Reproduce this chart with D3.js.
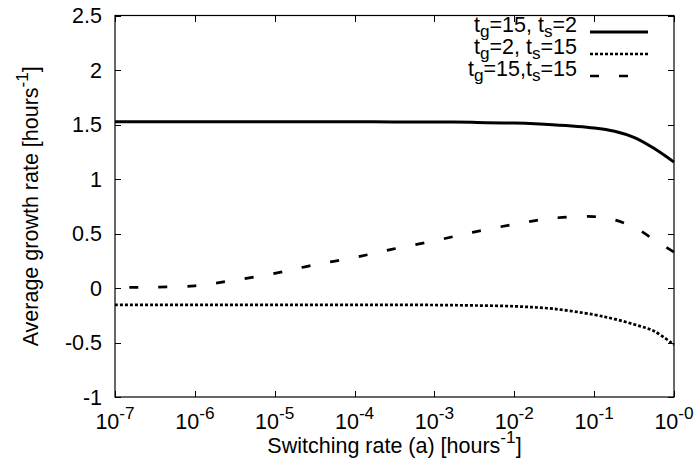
<!DOCTYPE html>
<html>
<head>
<meta charset="utf-8">
<script src="https://cdn.jsdelivr.net/npm/d3@7"></script>
<style>
  body { margin: 0; background: #fff; }
  svg { display: block; }
  text { font-family: "Liberation Sans", Arial, Helvetica, sans-serif; fill: #000; }
</style>
</head>
<body>
<div id="chart"></div>
<script>
// switching rate a [hours^-1]
var rates = [1e-7, 3e-7, 1e-6, 3e-6, 1e-5, 3e-5, 1e-4, 3e-4, 1e-3, 3e-3, 1e-2, 3e-2, 0.1, 0.18, 0.32, 0.56, 1];

// average growth rate for the three parameter sets
var growthG15S2  = [1.525, 1.525, 1.525, 1.525, 1.525, 1.525, 1.525, 1.524, 1.523, 1.52, 1.513, 1.498, 1.468, 1.438, 1.38, 1.282, 1.155];
var growthG2S15  = [-0.155, -0.155, -0.155, -0.155, -0.155, -0.155, -0.155, -0.155, -0.156, -0.16, -0.168, -0.19, -0.245, -0.285, -0.335, -0.395, -0.52];
var growthG15S15 = [0.005, 0.008, 0.02, 0.07, 0.134, 0.21, 0.28, 0.357, 0.433, 0.51, 0.585, 0.64, 0.655, 0.625, 0.555, 0.445, 0.33];

var xTicks = [1e-7, 1e-6, 1e-5, 1e-4, 1e-3, 1e-2, 1e-1, 1];
var xTickExp = ["-7", "-6", "-5", "-4", "-3", "-2", "-1", "-0"];
var yTicks = [-1, -0.5, 0, 0.5, 1, 1.5, 2, 2.5];

// legend labels as [text, isSubscript] pieces
var legendLabels = [
    [["t", 0], ["g", 1], ["=15, t", 0], ["s", 1], ["=2", 0]],
    [["t", 0], ["g", 1], ["=2, t", 0], ["s", 1], ["=15", 0]],
    [["t", 0], ["g", 1], ["=15,t", 0], ["s", 1], ["=15", 0]]
];

var W = 695, H = 469;
var plotL = 115, plotR = 674, plotT = 15.5, plotB = 397;
var fs = 21.5;

var svg = d3.select('#chart').append('svg')
    .attr('width', W)
    .attr('height', H);

var x = d3.scaleLog().domain([1e-7, 1]).range([plotL, plotR]);
var y = d3.scaleLinear().domain([-1, 2.5]).range([plotB, plotT]);

// axes with inward ticks on all four sides
var axes = svg.append('g').attr('class', 'axes');
axes.append('g')
    .attr('transform', 'translate(0,' + plotB + ')')
    .call(d3.axisBottom(x).tickValues(xTicks).tickSize(-6).tickSizeOuter(0).tickFormat(''));
axes.append('g')
    .attr('transform', 'translate(0,' + plotT + ')')
    .call(d3.axisTop(x).tickValues(xTicks).tickSize(-6).tickSizeOuter(0).tickFormat(''));
axes.append('g')
    .attr('transform', 'translate(' + plotL + ',0)')
    .call(d3.axisLeft(y).tickValues(yTicks).tickSize(-6).tickSizeOuter(0).tickFormat(''));
axes.append('g')
    .attr('transform', 'translate(' + plotR + ',0)')
    .call(d3.axisRight(y).tickValues(yTicks).tickSize(-6).tickSizeOuter(0).tickFormat(''));
axes.selectAll('.domain').remove();
axes.selectAll('line').attr('stroke', '#000').attr('shape-rendering', 'crispEdges');

svg.append('rect')
    .attr('x', plotL).attr('y', plotT)
    .attr('width', plotR - plotL).attr('height', plotB - plotT)
    .attr('fill', 'none').attr('stroke', '#000').attr('stroke-width', 1.2);

// x tick labels 10^n
xTicks.forEach(function(t, i) {
    var txt = svg.append('text')
        .attr('x', x(t)).attr('y', 429)
        .attr('text-anchor', 'middle')
        .style('font-size', fs + 'px');
    txt.append('tspan').text('10');
    txt.append('tspan').attr('dy', -10).style('font-size', (fs * 0.8) + 'px').text(xTickExp[i]);
});

// y tick labels
yTicks.forEach(function(t) {
    svg.append('text')
        .attr('x', 102).attr('y', y(t))
        .attr('dy', '0.35em')
        .attr('text-anchor', 'end')
        .style('font-size', fs + 'px')
        .text(t);
});

// axis titles
var xl = svg.append('text')
    .attr('x', (plotL + plotR) / 2).attr('y', 453)
    .attr('text-anchor', 'middle')
    .style('font-size', fs + 'px');
xl.append('tspan').text('Switching rate (a) [hours');
xl.append('tspan').attr('dy', -10).style('font-size', (fs * 0.8) + 'px').text('-1');
xl.append('tspan').attr('dy', 10).text(']');

var yl = svg.append('text')
    .attr('transform', 'translate(38,' + ((plotT + plotB) / 2) + ') rotate(-90)')
    .attr('text-anchor', 'middle')
    .style('font-size', fs + 'px');
yl.append('tspan').text('Average growth rate [hours');
yl.append('tspan').attr('dy', -10).style('font-size', (fs * 0.8) + 'px').text('-1');
yl.append('tspan').attr('dy', 10).text(']');

// curves
var series = [
    { values: growthG15S2,  dash: null,   width: 3 },
    { values: growthG2S15,  dash: '3,2',  width: 2.7 },
    { values: growthG15S15, dash: '9,20', width: 2.7 }
];

var line = d3.line()
    .x(function(d) { return x(d[0]); })
    .y(function(d) { return y(d[1]); })
    .curve(d3.curveCatmullRom.alpha(0.5));

series.forEach(function(s) {
    var path = svg.append('path')
        .datum(rates.map(function(r, i) { return [r, s.values[i]]; }))
        .attr('fill', 'none')
        .attr('stroke', '#000')
        .attr('stroke-width', s.width)
        .attr('stroke-dasharray', s.dash)
        .attr('d', line);
    if (s.dash === '9,20') {
        // end the curve on a dash, like the original
        var len = path.node().getTotalLength();
        var off = ((9 - len) % 29 + 29) % 29;
        path.attr('stroke-dashoffset', off);
    }
});

// legend
var legY = [32, 54, 76];
legendLabels.forEach(function(parts, i) {
    var g = svg.append('g');
    var txt = g.append('text')
        .attr('x', 577).attr('y', legY[i])
        .attr('dy', '0.35em')
        .attr('text-anchor', 'end')
        .style('font-size', fs + 'px');
    var shift = 0;
    parts.forEach(function(p) {
        var dy = p[1] ? 5 - shift : -shift;
        shift = p[1] ? 5 : 0;
        txt.append('tspan')
            .attr('dy', dy)
            .style('font-size', (p[1] ? fs * 0.8 : fs) + 'px')
            .text(p[0]);
    });
    g.append('line')
        .attr('x1', 590).attr('x2', 648)
        .attr('y1', legY[i]).attr('y2', legY[i])
        .attr('stroke', '#000')
        .attr('stroke-width', series[i].width)
        .attr('stroke-dasharray', series[i].dash);
});
</script>
</body>
</html>
